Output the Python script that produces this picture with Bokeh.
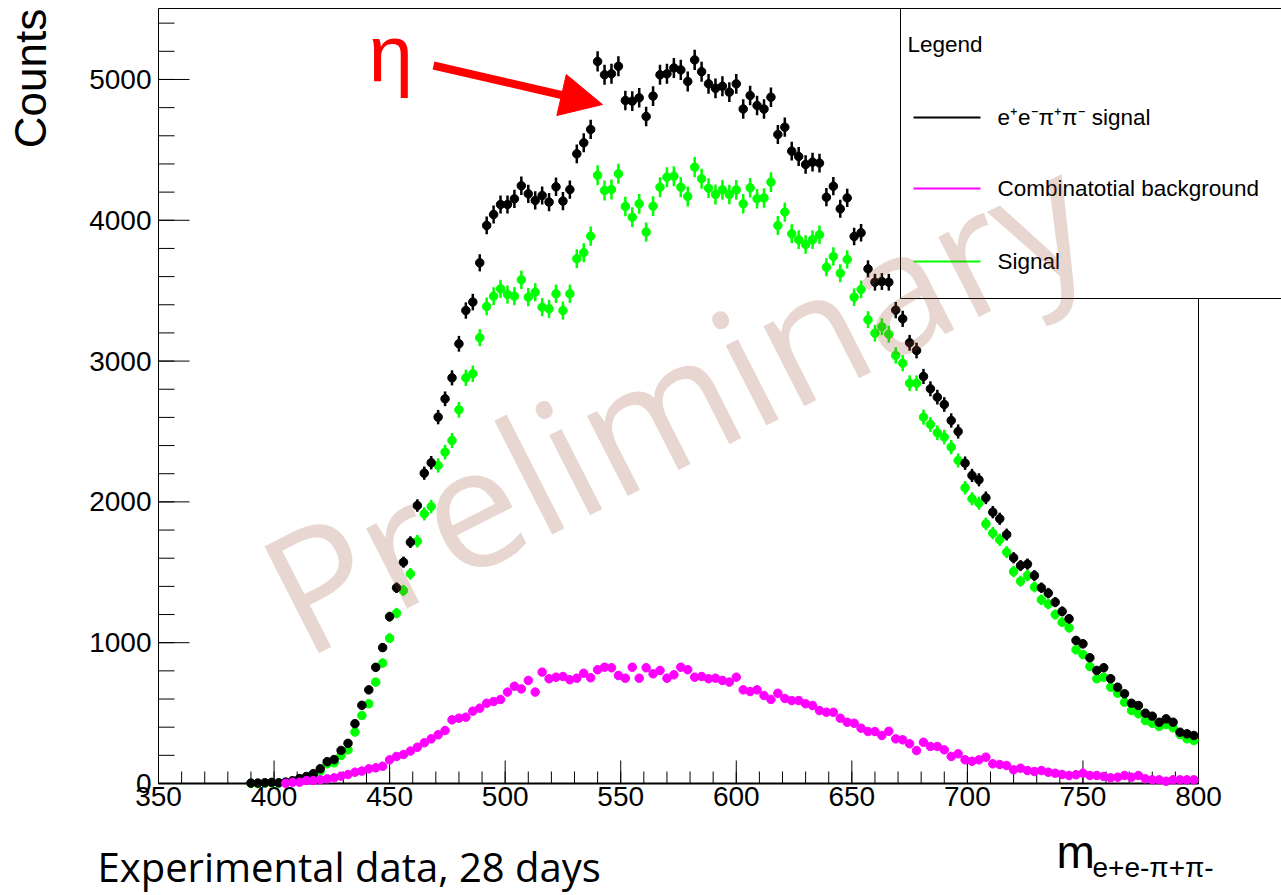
import math
import numpy as np
from bokeh.plotting import figure
from bokeh.models import Range1d, Label, Arrow, NormalHead, ColumnDataSource
from bokeh.core.properties import value
from bokeh.embed import file_html
from bokeh.resources import INLINE

# ---------------- data ----------------
mass = list(range(390, 801, 3))  # bin centres, 3 MeV bins

total = [3, 3, 5, 8, 5, 10, 20, 35, 50, 70,
         105, 155, 170, 235, 285, 425, 555, 665, 825, 965,
         1185, 1390, 1572, 1714, 1974, 2204, 2278, 2602, 2732, 2881,
         3123, 3359, 3419, 3698, 3963, 4041, 4112, 4112, 4152, 4245,
         4188, 4141, 4176, 4129, 4238, 4136, 4218, 4472, 4550, 4645,
         5128, 5033, 5040, 5094, 4851, 4846, 4870, 4737, 4882, 5033,
         5040, 5082, 5068, 4986, 5139, 5055, 4969, 4937, 4952, 4910,
         4969, 4790, 4886, 4815, 4790, 4874, 4609, 4661, 4491, 4453,
         4396, 4413, 4406, 4164, 4242, 4081, 4159, 3885, 3911, 3655,
         3560, 3565, 3560, 3362, 3300, 3130, 3075, 2891, 2803, 2744,
         2692, 2578, 2500, 2275, 2188, 2157, 2029, 1927, 1880, 1768,
         1603, 1548, 1558, 1477, 1390, 1352, 1288, 1222, 1170, 1016,
         992, 893, 803, 822, 744, 684, 637, 570, 554, 499,
         478, 435, 459, 435, 364, 353, 341]

signal = [0, 0, 3, 5, 3, 8, 15, 28, 42, 60,
          88, 140, 147, 199, 239, 365, 483, 566, 720, 855,
          1032, 1210, 1371, 1489, 1721, 1915, 1967, 2259, 2353, 2436,
          2654, 2881, 2910, 3166, 3388, 3461, 3513, 3473, 3461, 3577,
          3454, 3489, 3383, 3371, 3478, 3359, 3478, 3727, 3770, 3887,
          4320, 4212, 4219, 4330, 4098, 4022, 4117, 3916, 4100, 4235,
          4306, 4313, 4235, 4169, 4377, 4295, 4228, 4183, 4216, 4183,
          4216, 4117, 4231, 4153, 4159, 4271, 3963, 4058, 3904, 3862,
          3828, 3862, 3897, 3667, 3743, 3624, 3722, 3454, 3509, 3294,
          3198, 3244, 3191, 3040, 2985, 2843, 2843, 2602, 2550, 2491,
          2460, 2389, 2294, 2100, 2022, 1991, 1844, 1778, 1731, 1643,
          1505, 1437, 1477, 1396, 1305, 1274, 1200, 1146, 1106, 950,
          916, 831, 744, 755, 684, 641, 577, 518, 495, 447,
          428, 405, 419, 396, 348, 317, 305]

background = [None, None, None, None, None, 2, 9, 9, 21, 21,
              26, 33, 40, 52, 64, 80, 88, 104, 111, 123,
              168, 192, 206, 230, 258, 289, 317, 346, 376, 452,
              464, 471, 514, 535, 570, 582, 597, 649, 691, 672,
              732, 649, 791, 744, 755, 760, 737, 748, 783, 751,
              808, 826, 822, 767, 748, 826, 748, 822, 779, 803,
              748, 772, 826, 808, 755, 760, 744, 748, 732, 720,
              755, 665, 653, 665, 625, 597, 641, 604, 589, 589,
              566, 554, 518, 506, 506, 464, 435, 428, 393, 369,
              369, 341, 371, 317, 310, 282, 234, 293, 263, 263,
              239, 192, 211, 168, 158, 168, 187, 140, 135, 128,
              97, 109, 92, 85, 92, 80, 73, 64, 57, 62,
              73, 57, 57, 50, 40, 45, 57, 45, 57, 33,
              26, 26, 16, 26, 26, 26, 26]

x_ticks = [350, 400, 450, 500, 550, 600, 650, 700, 750, 800]
x_minor = list(range(350, 801, 10))
y_ticks = [0, 1000, 2000, 3000, 4000, 5000]
y_minor = list(range(0, 5501, 200))
legend_labels = ["e\u207ae\u207b\u03c0\u207a\u03c0\u207b signal",
                 "Combinatotial background", "Signal"]
legend_colors = ["black", "#ff00ff", "#00ff00"]

# ---------------- layout (pixel geometry of the frame) ----------------
W, H = 1281, 895
FL, FR, FT, FB = 158, 1198, 8, 783      # frame edges in pixels
X0, X1 = 350, 800
Y0, Y1 = 0, 5504
SX = (X1 - X0) / (FR - FL)              # data per pixel
SY = (Y1 - Y0) / (FB - FT)

def dx(px):
    return X0 + (px - FL) * SX

def dy(py):
    return Y0 + (FB - py) * SY

p = figure(width=W, height=H, x_range=Range1d(dx(0), dx(W)),
           y_range=Range1d(dy(H), dy(0)), output_backend="svg",
           toolbar_location=None, min_border=0,
           x_axis_type=None, y_axis_type=None)
p.background_fill_color = "white"
p.border_fill_color = "white"
p.outline_line_color = None
p.xgrid.visible = False
p.ygrid.visible = False

TICKFONT = value("Liberation Sans")

# ---------------- frame, ticks, tick labels ----------------
p.quad(left=[X0], right=[X1], bottom=[Y0], top=[Y1], fill_alpha=0,
       line_color="black", line_width=1)
p.segment(x0=[X0], y0=[Y0], x1=[X1], y1=[Y0], line_color="black", line_width=2)

p.segment(x0=x_minor, y0=[Y0] * len(x_minor), x1=x_minor,
          y1=[Y0 + 12 * SY] * len(x_minor), line_color="black", line_width=1)
p.segment(x0=x_ticks, y0=[Y0] * len(x_ticks), x1=x_ticks,
          y1=[Y0 + 23 * SY] * len(x_ticks), line_color="black", line_width=1)
p.segment(x0=[X0] * len(y_minor), y0=y_minor, x1=[X0 + 16 * SX] * len(y_minor),
          y1=y_minor, line_color="black", line_width=1)
p.segment(x0=[X0] * len(y_ticks), y0=y_ticks, x1=[X0 + 31 * SX] * len(y_ticks),
          y1=y_ticks, line_color="black", line_width=1)

p.text(x=x_ticks, y=[dy(786)] * len(x_ticks), text=[str(t) for t in x_ticks],
       text_font=TICKFONT, text_font_size="28px", text_color="black",
       text_align="center", text_baseline="top")
p.text(x=[dx(151)] * len(y_ticks), y=y_ticks, text=[str(t) for t in y_ticks],
       text_font=TICKFONT, text_font_size="28px", text_color="black",
       text_align="right", text_baseline="middle")

# ---------------- data glyphs ----------------
x = np.array(mass, dtype=float)
tot = np.array(total, dtype=float)
sig = np.array(signal, dtype=float)
bkg = np.array([np.nan if v is None else v for v in background], dtype=float)

def series(yv, err, color, lw):
    src = ColumnDataSource(dict(x=x, y=yv, lo=yv - err, hi=yv + err))
    p.segment(x0="x", y0="lo", x1="x", y1="hi", source=src, line_color=color,
              line_width=lw)
    p.scatter(x="x", y="y", source=src, size=8.5, fill_color=color,
              line_color=color, marker="circle")

series(sig, np.sqrt(tot), "#00ff00", 2.5)
series(tot, np.sqrt(tot), "black", 2.5)
series(bkg, np.sqrt(bkg), "#ff00ff", 2)

# ---------------- legend (drawn by hand) ----------------
p.quad(left=[dx(900)], right=[dx(1300)], top=[dy(8)], bottom=[dy(298)],
       fill_color="white", line_color="black", line_width=1)
leg_rows = [117, 188, 261]
p.segment(x0=[dx(913)] * 3, x1=[dx(980)] * 3, y0=[dy(r) for r in leg_rows],
          y1=[dy(r) for r in leg_rows], line_color=legend_colors, line_width=2)
p.text(x=[dx(997)] * 3, y=[dy(r) for r in leg_rows], text=legend_labels,
       text_font=TICKFONT, text_font_size="22.5px", text_color="black",
       text_align="left", text_baseline="middle")
p.text(x=[dx(907)], y=[dy(44)], text=["Legend"], text_font=TICKFONT,
       text_font_size="22.5px", text_color="black", text_align="left",
       text_baseline="middle")

# ---------------- texts ----------------
p.add_layout(Label(x=dx(30), y=dy(78), text="Counts", angle=math.pi / 2,
                   text_align="center", text_baseline="middle",
                   text_font="Liberation Sans", text_font_size="44px",
                   text_color="black"))
p.add_layout(Label(x=dx(1056), y=dy(851), text="m", text_font="Liberation Sans",
                   text_font_size="46px", text_color="black",
                   text_baseline="middle"))
p.add_layout(Label(x=dx(1092), y=dy(867), text="e+e-\u03c0+\u03c0-",
                   text_font="Liberation Sans", text_font_size="28px",
                   text_color="black", text_baseline="middle"))
p.add_layout(Label(x=dx(97), y=dy(866), text="Experimental data, 28 days",
                   text_font="Open Sans", text_font_size="40px",
                   text_color="black", text_baseline="middle"))
p.add_layout(Label(x=dx(368), y=dy(53), text="\u03b7",
                   text_font="Liberation Sans", text_font_size="80px",
                   text_color="red", text_baseline="middle"))
p.add_layout(Arrow(end=NormalHead(size=42, fill_color="red", line_color="red"),
                   x_start=dx(433), y_start=dy(65), x_end=dx(602), y_end=dy(104),
                   line_color="red", line_width=8))

# watermark on top of everything
p.add_layout(Label(x=dx(274), y=dy(602), text="Preliminary",
                   angle=math.radians(27), text_font="Open Sans",
                   text_font_size="168px", text_color=(150, 80, 50),
                   text_alpha=0.23, text_align="left",
                   text_baseline="alphabetic"))

open("out.html", "w").write(file_html(p, INLINE))
